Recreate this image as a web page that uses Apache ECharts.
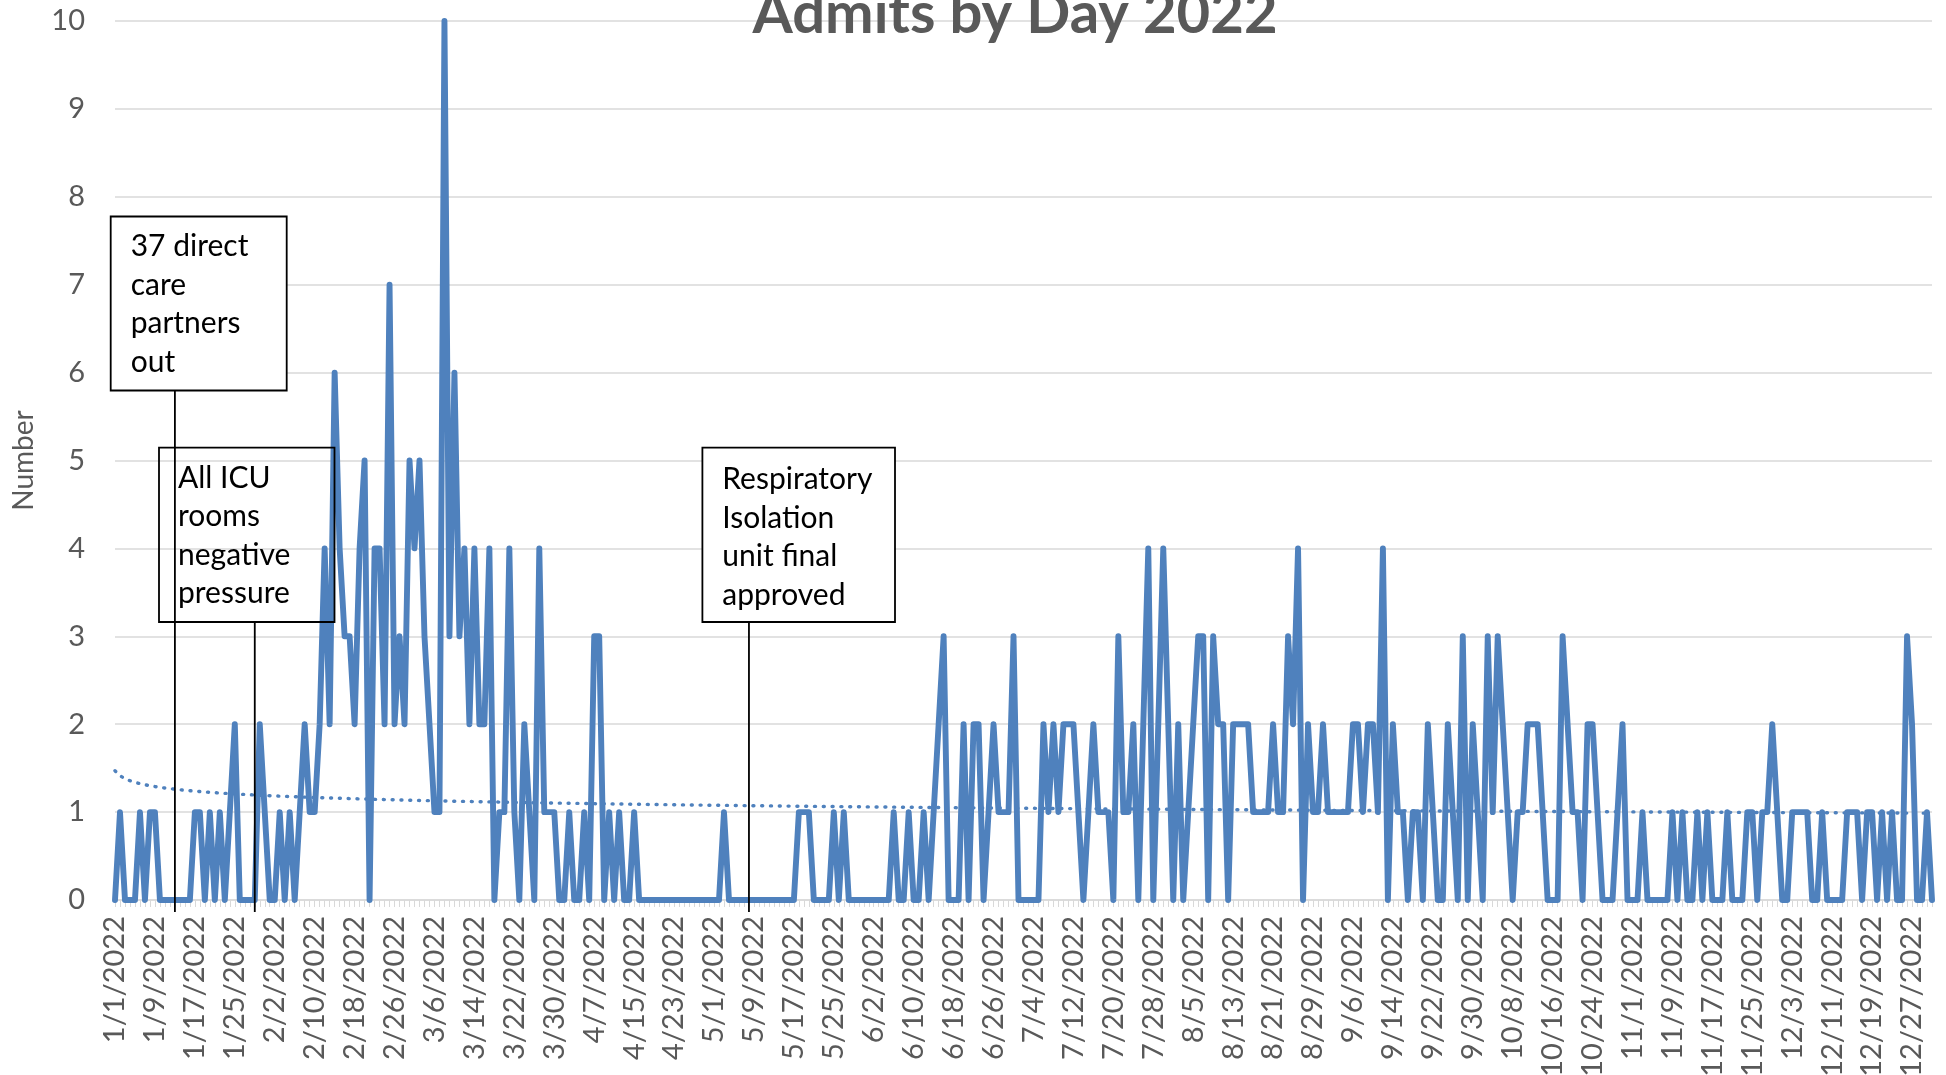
<!DOCTYPE html>
<html><head><meta charset="utf-8">
<script src="https://cdn.jsdelivr.net/npm/echarts@6/dist/echarts.min.js"></script>
<style>html,body{margin:0;padding:0;background:#fff}#chart{width:1946px;height:1075px}</style>
</head><body><div id="chart"></div>
<script>
// ---- data ----
const year = 2022;
const jan = [0,1,0,0,0,1,0,1,1,0, 0,0,0,0,0,0,1,1,0,1, 0,1,0,1,2,0,0,0,0,2, 1];
const feb = [0,0,1,0,1,0,1,2,1,1, 2,4,2,6,4,3,3,2,4,5, 0,4,4,2,7,2,3,2];
const mar = [5,4,5,3,2,1,1,10,3,6, 3,4,2,4,2,2,4,0,1,1, 4,1,0,2,1,0,4,1,1,1, 0];
const apr = [0,1,0,0,1,0,3,3,0,1, 0,1,0,0,1,0,0,0,0,0, 0,0,0,0,0,0,0,0,0,0];
const may = [0,0,1,0,0,0,0,0,0,0, 0,0,0,0,0,0,0,1,1,1, 0,0,0,0,1,0,1,0,0,0, 0];
const jun = [0,0,0,0,0,1,0,0,1,0, 0,1,0,1,2,3,0,0,0,2, 0,2,2,0,1,2,1,1,1,3];
const jul = [0,0,0,0,0,2,1,2,1,2, 2,2,1,0,1,2,1,1,1,0, 3,1,1,2,0,2,4,0,2,4, 2];
const aug = [0,2,0,1,2,3,3,0,3,2, 2,0,2,2,2,2,1,1,1,1, 2,1,1,3,2,4,0,2,1,1, 2];
const sep = [1,1,1,1,1,2,2,1,2,2, 1,4,0,2,1,1,0,1,1,0, 2,1,0,0,2,1,0,3,0,2];
const oct = [1,0,3,1,3,2,1,0,1,1, 2,2,2,1,0,0,0,3,2,1, 1,0,2,2,1,0,0,0,1,2, 0];
const nov = [0,0,1,0,0,0,0,0,1,0, 1,0,0,1,0,1,0,0,0,1, 0,0,0,1,1,0,1,1,2,1];
const dec = [0,0,1,1,1,1,0,0,1,0, 0,0,0,1,1,1,0,1,1,0, 1,0,1,0,0,3,2,0,0,1, 0];
const admits = [].concat(jan,feb,mar,apr,may,jun,jul,aug,sep,oct,nov,dec);

// categories: every day of 2022 as M/D/YYYY
const monthLengths = [31,28,31,30,31,30,31,31,30,31,30,31];
const dates = [];
monthLengths.forEach((len,m)=>{ for(let d=1; d<=len; d++) dates.push((m+1)+'/'+d+'/'+year); });

const yTicks = [0,1,2,3,4,5,6,7,8,9,10];

// annotations
const notes = [
  {date:'1/13/2022', text:'37 direct\ncare\npartners\nout'},
  {date:'1/29/2022', text:'All ICU\nrooms\nnegative\npressure'},
  {date:'5/8/2022',  text:'Respiratory\nIsolation\nunit final\napproved'}
];

// logarithmic trendline (least squares of y = a ln(x) + b, x = 1..n)
let n=admits.length, sx=0, sy=0, sxx=0, sxy=0;
admits.forEach((v,i)=>{const lx=Math.log(i+1); sx+=lx; sy+=v; sxx+=lx*lx; sxy+=lx*v;});
const ta=(n*sxy-sx*sy)/(n*sxx-sx*sx), tb=(sy-ta*sx)/n;
const trend = admits.map((v,i)=> +(ta*Math.log(i+1)+tb).toFixed(4));

const FONT = 'Lato';
const chart = echarts.init(document.getElementById('chart'), null, {renderer:'canvas'});
chart.setOption({
  animation:false,
  backgroundColor:'#ffffff',
  grid:{left:115, right:14, top:21, bottom:175, containLabel:false, outerBoundsMode:'none'},
  xAxis:{
    type:'category', data:dates, boundaryGap:false,
    axisLine:{lineStyle:{color:'#d9d9d9', width:1.5}},
    axisTick:{show:true, interval:0, length:7, lineStyle:{color:'#d9d9d9', width:1}},
    axisLabel:{interval:7, rotate:90, margin:16, color:'#595959', fontSize:29, fontFamily:FONT},
    splitLine:{show:false}
  },
  yAxis:{
    type:'value', min:0, max:10, interval:1,
    name:'Number', nameLocation:'middle', nameGap:77,
    nameTextStyle:{color:'#595959', fontSize:28, fontFamily:FONT},
    axisLine:{show:false}, axisTick:{show:false},
    axisLabel:{color:'#595959', fontSize:29, fontFamily:FONT, margin:30},
    splitLine:{lineStyle:{color:'#d9d9d9', width:1.5}}
  },
  series:[
    {type:'line', name:'Admits', data:admits, showSymbol:false, symbol:'none',
     lineStyle:{color:'#4f81bd', width:5.9, join:'round', cap:'round'}, z:3},
    {type:'line', name:'Trend', data:trend, showSymbol:false, symbol:'none', smooth:false,
     lineStyle:{color:'#4f81bd', width:3.4, type:[1,7.8], cap:'round'}, z:2}
  ]
});

// annotation graphics (boxes are layout; line x from the category scale)
const boxes = [
  {x:110.7, y:216.5, w:176, h:174, fill:'#ffffff', tx:130.7, ty:227.5},
  {x:159, y:447.6, w:175.5, h:174.4, fill:null, tx:178, ty:459},
  {x:702.4, y:447.6, w:192.6, h:174.4, fill:'#ffffff', tx:722.3, ty:460.5}
];
const g = [];
g.push({type:'text', x:1015, y:14, z:100, style:{text:'Admits by Day 2022', font:'bold 58px '+FONT, fill:'#595959', textAlign:'center', textVerticalAlign:'middle'}});
notes.forEach((nt,i)=>{
  const b = boxes[i];
  const px = chart.convertToPixel({xAxisIndex:0}, nt.date);
  g.push({type:'rect', z:50+i*3, shape:{x:b.x, y:b.y, width:b.w, height:b.h},
          style:{fill:b.fill || 'rgba(0,0,0,0)', stroke:'#000', lineWidth:1.8}});
  g.push({type:'text', z:51+i*3, x:b.tx, y:b.ty,
          style:{text:nt.text, font:'30px '+FONT, lineHeight:38.4, fill:'#000', textAlign:'left', textVerticalAlign:'top'}});
  g.push({type:'line', z:52+i*3, shape:{x1:px, y1:b.y+b.h, x2:px, y2:912},
          style:{stroke:'#000', lineWidth:1.8}});
});
chart.setOption({graphic:g});
</script>
</body></html>
